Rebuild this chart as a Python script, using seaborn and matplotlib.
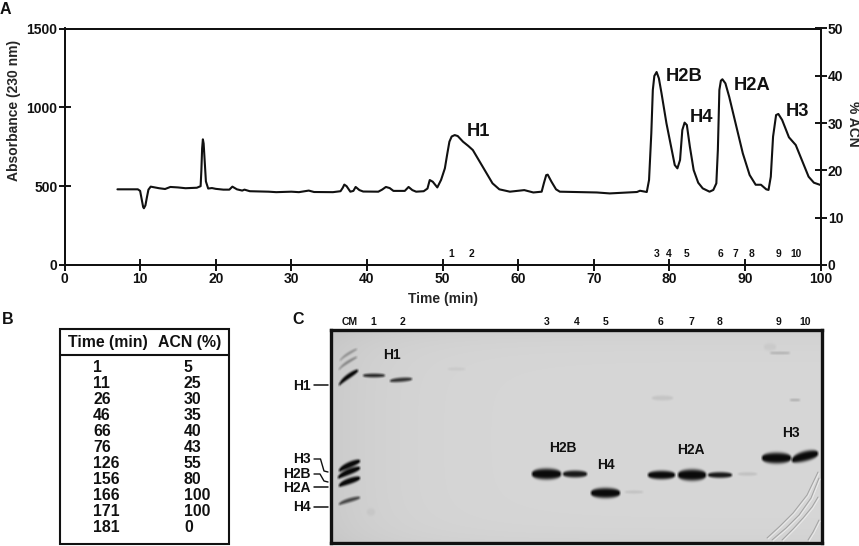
import matplotlib
matplotlib.use('Agg')

import numpy as np
import pandas as pd
import seaborn as sns
import matplotlib.pyplot as plt
from matplotlib.patches import Rectangle

W, H = 859, 546

# chromatogram trace (panel A)
time_min = [7, 9.7, 10, 10.2, 10.4, 10.5, 10.7, 10.9, 11.1, 11.4, 12.5, 13.3, 14, 15, 16, 17.5, 18, 18.1, 18.2, 18.3,
            18.4, 18.5, 18.7, 19, 19.5, 20, 21, 21.8, 22.2, 22.8, 23.5, 23.8, 24.5, 27, 28, 30, 31, 32.3, 33, 35.5,
            36.5, 36.8, 37, 37.3, 37.8, 38.2, 38.5, 39, 39.5, 41.5, 42, 42.5, 43, 43.5, 45, 45.5, 46, 46.5, 47.5, 48,
            48.3, 48.7, 49.3, 49.8, 50.3, 50.6, 50.9, 51.2, 51.6, 52, 52.7, 53.4, 54, 54.6, 55.3, 56, 56.6, 57.5, 58.9,
            60.8, 62, 63.1, 63.4, 63.7, 63.9, 64.4, 65, 65.5, 70.4, 72.1, 75.7,
            76.1, 77.0, 77.3, 77.6, 77.8, 78.0, 78.3, 78.6, 78.95, 79.6, 80.3, 80.7, 81.05, 81.4, 81.7, 82.0, 82.3,
            82.7, 83.2, 83.8, 84.4, 85.3, 85.8, 86.2, 86.4, 86.6, 86.8, 87.0, 87.4, 87.9, 88.8, 89.7, 90.6, 91.4,
            92.1, 92.8, 93.1, 93.4, 93.7, 94.1, 94.4, 94.9, 95.8, 96.7, 97.6, 98.4, 99.1, 100]
absorbance = [480, 480, 470, 420, 368, 360, 378, 430, 478, 497, 487, 482, 495, 492, 487, 490, 500, 600, 740, 797,
              770, 690, 530, 485, 488, 483, 478, 478, 497, 480, 472, 478, 468, 465, 462, 465, 462, 472, 463, 462,
              468, 490, 510, 500, 465, 470, 495, 475, 466, 465, 478, 495, 488, 470, 470, 495, 475, 465, 468, 485,
              539, 528, 492, 540, 613, 700, 782, 815, 824, 818, 782, 755, 729, 680, 623, 565, 518, 480, 465,
              475, 460, 465, 520, 570, 573, 528, 480, 465, 460, 454, 463,
              471, 463, 539, 835, 1110, 1199, 1224, 1184, 1089, 899, 729, 634, 613, 666, 856, 903, 888,
              750, 602, 522, 486, 465, 476, 518, 729, 1110, 1169, 1178, 1152, 1067, 888, 708, 571, 509,
              509, 480, 476, 560, 814, 951, 958, 920, 810, 761, 655, 560, 522, 507]

peak_names = ['H1', 'H2B', 'H4', 'H2A', 'H3']
peak_x = [54.8, 81.9, 84.2, 90.9, 96.9]
peak_y = [845, 1194, 934, 1137, 972]

fraction_names = ['1', '2', '3', '4', '5', '6', '7', '8', '9', '10']
fraction_x = [51.2, 53.8, 78.3, 79.9, 82.2, 86.8, 88.7, 90.8, 94.4, 96.7]

# gradient table (panel B)
table_time = [1, 11, 26, 46, 66, 76, 126, 156, 166, 171, 181]
table_acn = [5, 25, 30, 35, 40, 43, 55, 80, 100, 100, 0]

# gel bands (panel C), page pixels: x start, x end, y at centre, tilt, half height, darkness
band_x0 = [340, 339, 339, 339, 338, 339, 339, 363, 390, 532, 563, 591, 625, 648, 678, 708, 738, 762, 792,
           652, 770, 790, 448, 367, 764]
band_x1 = [357, 357, 358, 360, 360, 360, 360, 385, 412, 561, 587, 620, 643, 675, 706, 732, 757, 791, 818,
           673, 790, 800, 465, 375, 776]
band_y = [355, 363.5, 378, 466, 473, 482, 501, 375.5, 380, 474, 474, 493, 492, 475, 475, 475, 474, 458, 457,
          398, 353, 400, 369, 512, 347]
band_tilt = [-12, -13, -15, -10, -10, -8, -7, 0, -2, 0, 0, 0, 0, 0, 0, 0, 0, 0, -7, 0, 0, 0, 0, 0, 0]
band_half = [1.5, 1.6, 2.8, 3.2, 3.2, 3.2, 2.2, 2.0, 2.2, 5.6, 3.6, 5.2, 1.5, 4.4, 5.8, 3.0, 1.8, 5.6, 5.2,
             2.6, 1.2, 1.2, 1.6, 4.0, 4.0]
band_dark = [65, 75, 205, 205, 205, 205, 135, 170, 160, 205, 190, 205, 22, 205, 205, 190, 22, 205, 205,
             18, 40, 45, 12, 9, 10]

gel_names = ['H1', 'H2B', 'H4', 'H2A', 'H3']
gel_name_x = [392, 563, 606, 691, 791]
gel_name_y = [355, 448, 465, 450, 433]
lane_names = ['CM', '1', '2', '3', '4', '5', '6', '7', '8', '9', '10']
lane_x = [350, 373, 403, 547, 577, 606, 660, 691, 720, 778, 805]
marker_names = ['H1', 'H3', 'H2B', 'H2A', 'H4']
marker_y = [386, 459, 474, 488, 507]

# scratches in the lower right corner of the gel
scratch_x = [[767, 780, 793, 807, 818], [772, 786, 799, 811, 819], [782, 793, 803, 812, 818], [808, 813, 819]]
scratch_y = [[538, 526, 513, 495, 472], [540, 528, 515, 498, 478], [540, 529, 518, 507, 497], [540, 532, 520]]

sns.set_theme(style='white')
plt.rcParams['font.family'] = ['Liberation Sans', 'DejaVu Sans']
plt.rcParams['font.weight'] = 'bold'
plt.rcParams['axes.labelweight'] = 'bold'


def px_axes(fig, x0, y0, x1, y1):
    return fig.add_axes([x0 / W, 1 - y1 / H, (x1 - x0) / W, (y1 - y0) / H])


fig = plt.figure(figsize=(W / 100, H / 100), dpi=100, facecolor='white')

# panel A
ax = px_axes(fig, 64.5, 28.5, 820.7, 265)
trace = pd.DataFrame({'time': time_min, 'abs': absorbance})
sns.lineplot(data=trace, x='time', y='abs', color='#111111', linewidth=1.5, ax=ax, errorbar=None,
             solid_joinstyle='round')
ax.set_xlim(0, 100)
ax.set_ylim(0, 1500)
ax.set_xticks(range(0, 101, 10))
ax.set_yticks([0, 500, 1000, 1500])
ax.set_xlabel('Time (min)', fontsize=10, labelpad=4)
ax.set_ylabel('Absorbance (230 nm)', fontsize=10)
ax.yaxis.set_label_coords(-0.058, 0.655)
ax.tick_params(axis='both', direction='inout', length=8, width=1.4, color='#111111', labelsize=10, pad=1,
               bottom=True, left=True, labelcolor='#111111')
for s in ax.spines.values():
    s.set_linewidth(1.4)
    s.set_color('#111111')

ax2 = ax.twinx()
ax2.set_ylim(0, 50)
ax2.set_yticks(range(0, 51, 10))
ax2.tick_params(axis='y', direction='inout', length=8, width=1.4, color='#111111', labelsize=10, pad=1,
                right=True, labelcolor='#111111')
ax2.set_ylabel('% ACN', fontsize=10, rotation=270, va='center')
ax2.yaxis.set_label_coords(1.0425, 0.598)
for s in ax2.spines.values():
    s.set_linewidth(1.4)
    s.set_color('#111111')
ax2.grid(False)

for name, x, y in zip(peak_names, peak_x, peak_y):
    ax.text(x, y, name, fontsize=13.2, ha='center', va='center', color='#111111')
for name, x in zip(fraction_names, fraction_x):
    ax.text(x, 70, name, fontsize=7.4, ha='center', va='center', color='#111111')

# panel C, gel picture
gx0, gy0, gx1, gy1 = 331, 330, 822, 543
xx, yy = np.meshgrid(np.arange(gx0, gx1) + 0.5, np.arange(gy0, gy1) + 0.5)
gel = 214 - 12 * np.exp(-(xx - gx0) / 60) - 8 * np.exp(-(yy - gy0) / 14) - 5 * np.exp(-(gy1 - yy) / 14)
for x0, x1, yc, tilt, half, dark in zip(band_x0, band_x1, band_y, band_tilt, band_half, band_dark):
    t = (xx - x0) / (x1 - x0)
    tc = np.clip(t, 0, 1)
    # marker bands rise fast on the left and flatten towards the right
    centre = yc + tilt * (tc ** 0.7 - 0.5)
    taper = np.sin(tc * np.pi) ** 0.3
    profile = np.exp(-((yy - centre) / np.maximum(half * taper, 0.4)) ** 4)
    side = ((t > 0) & (t < 1)) * 1.0
    gel = gel - dark * profile * side
# scan softness
gel = np.pad(gel, 1, mode='edge')
gel = sum(np.roll(np.roll(gel, i, 0), j, 1) for i in (-1, 0, 1) for j in (-1, 0, 1))[1:-1, 1:-1] / 9
gel = np.clip(gel, 10, 255)

ax_gel = px_axes(fig, gx0, gy0, gx1, gy1)
sns.heatmap(gel, ax=ax_gel, cmap='gray', vmin=0, vmax=255, cbar=False, xticklabels=False, yticklabels=False,
            rasterized=True)
ax_gel.set_xticks([])
ax_gel.set_yticks([])
for s in ax_gel.spines.values():
    s.set_visible(True)
    s.set_linewidth(2.4)
    s.set_color('#111111')

# page overlay for everything placed by hand
page = fig.add_axes([0, 0, 1, 1], facecolor='none')
page.set_xlim(0, W)
page.set_ylim(H, 0)
page.axis('off')

for sx, sy in zip(scratch_x, scratch_y):
    page.plot(sx, sy, color='#a2a2a2', linewidth=0.7)
    page.plot(np.array(sx) + 1.2, np.array(sy) + 1.0, color='#ececec', linewidth=0.6)

page.text(0, 9, 'A', fontsize=11.5, va='center', color='#111111')
page.text(2, 320, 'B', fontsize=11.5, va='center', color='#111111')
page.text(292, 320, 'C', fontsize=11.5, va='center', color='#111111')

# panel B
page.add_patch(Rectangle((60, 328.5), 169, 215, fill=False, edgecolor='#111111', linewidth=1.5))
page.plot([60, 229], [355, 355], color='#111111', linewidth=1.5)
page.text(68, 343, 'Time (min)', fontsize=11.4, va='center', color='#111111')
page.text(158, 343, 'ACN (%)', fontsize=11.4, va='center', color='#111111')
for i, (t, a) in enumerate(zip(table_time, table_acn)):
    row_y = 367.5 + i * 16.03
    page.text(93, row_y, str(t), fontsize=11.4, va='center', color='#111111')
    page.text(184, row_y, str(a), fontsize=11.4, va='center', color='#111111')

# panel C labels
for name, x in zip(lane_names, lane_x):
    page.text(x, 322, name, fontsize=7.5, ha='center', va='center', color='#111111')
for name, x, y in zip(gel_names, gel_name_x, gel_name_y):
    page.text(x, y, name, fontsize=10, ha='center', va='center', color='#111111')
for name, y in zip(marker_names, marker_y):
    page.text(311, y, name, fontsize=10, ha='right', va='center', color='#111111')

page.plot([314, 328], [385, 385], color='#111111', linewidth=1.1)
page.plot([314, 328], [487, 487], color='#111111', linewidth=1.1)
page.plot([314, 328], [507, 507], color='#111111', linewidth=1.1)
page.plot([314, 320.5, 324, 328], [459, 459, 471, 472], color='#111111', linewidth=1.0)
page.plot([314, 320, 324, 328], [474, 474, 481, 482], color='#111111', linewidth=1.0)

fig.savefig('out.png', dpi=100, facecolor='white')
plt.close('all')
